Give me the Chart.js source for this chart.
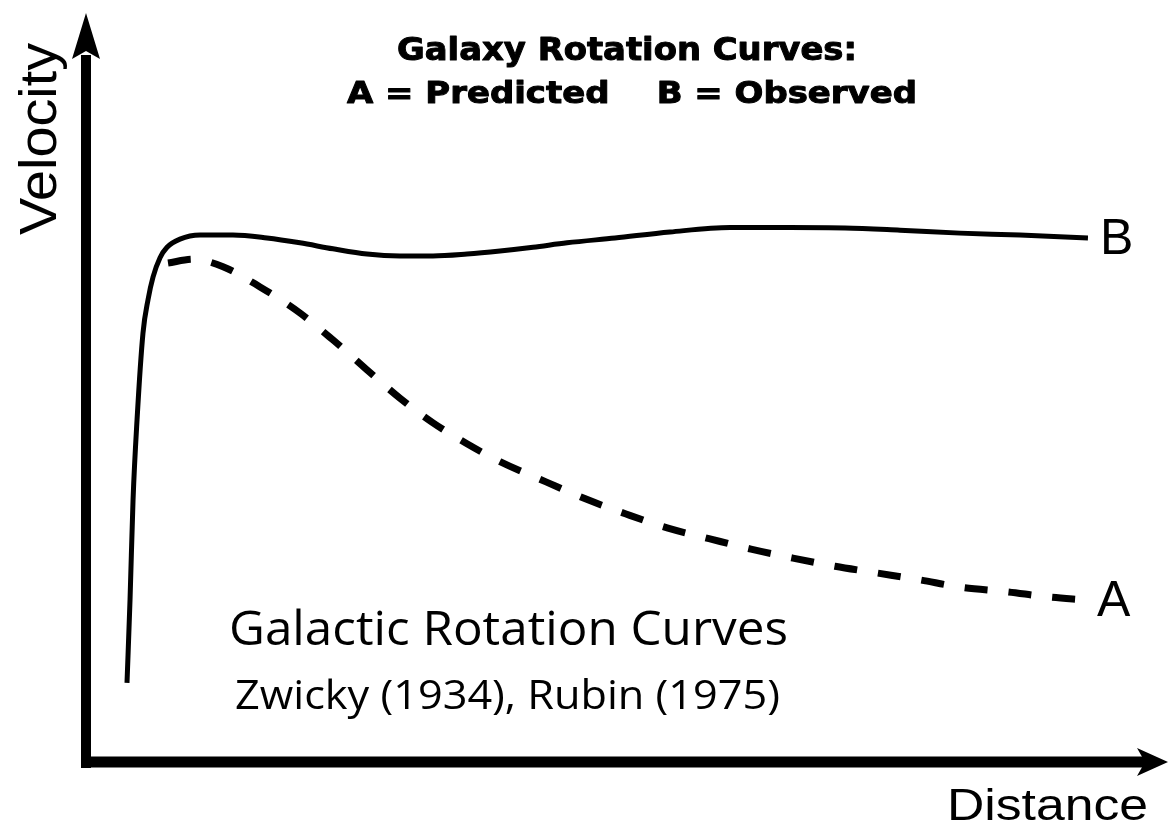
<!DOCTYPE html>
<html>
<head>
<meta charset="utf-8">
<script src="https://cdn.jsdelivr.net/npm/chart.js@4"></script>
<style>
html,body{margin:0;padding:0;background:#fff;}
#wrap{width:1171px;height:834px;}
</style>
</head>
<body>
<div id="wrap"><canvas id="c" width="1171" height="834"></canvas></div>
<script>
// ---- Data (distance 0..100, velocity 0..100, arbitrary units) ----
const observedDistance = [3.80, 4.08, 4.36, 4.73, 5.28, 5.75, 6.21, 6.86, 7.51, 8.71, 10.57, 13.62, 16.77, 19.83, 22.89, 26.04, 29.10, 32.16, 35.31, 38.37, 41.43, 44.58, 49.03, 54.12, 59.69, 65.25, 70.34, 75.44, 81.00, 86.56, 92.86];
const observedVelocity = [10.6, 21.7, 35.1, 45.8, 57.4, 61.9, 64.9, 67.5, 68.9, 70.0, 70.55, 70.55, 70.15, 69.5, 68.7, 68.0, 67.75, 67.75, 68.0, 68.4, 68.9, 69.5, 70.15, 70.95, 71.55, 71.55, 71.5, 71.2, 70.8, 70.55, 70.15];

const predictedDistance = [7.60, 9.92, 12.70, 16.13, 19.83, 22.89, 26.04, 29.10, 32.16, 35.31, 38.37, 42.63, 46.34, 50.05, 53.94, 57.74, 61.63, 65.52, 69.42, 73.31, 77.20, 81.09, 85.26, 89.16, 92.59];
const predictedVelocity = [66.8, 67.3, 66.3, 63.6, 60.1, 56.5, 52.5, 48.7, 45.4, 42.6, 40.2, 37.5, 35.2, 33.2, 31.3, 29.9, 28.5, 27.3, 26.2, 25.3, 24.4, 23.4, 22.8, 22.1, 21.7];

const seriesLabels = ['B', 'A'];
const titleLines = ['Galaxy Rotation Curves:', 'A = Predicted    B = Observed'];
const axisLabels = { x: 'Distance', y: 'Velocity' };
const captionLines = ['Galactic Rotation Curves', 'Zwicky (1934), Rubin (1975)'];

const toPoints = (xs, ys) => xs.map((x, i) => ({ x: x, y: ys[i] }));

function fitText(ctx, txt, x, y, font, width, strokeW) {
  ctx.save();
  ctx.font = font;
  const m = ctx.measureText(txt).width;
  const s = width / m;
  ctx.translate(x, y);
  ctx.scale(s, 1);
  ctx.textAlign = 'left';
  ctx.textBaseline = 'alphabetic';
  ctx.fillText(txt, 0, 0);
  if (strokeW) {
    ctx.lineWidth = strokeW;
    ctx.lineJoin = 'round';
    ctx.strokeText(txt, 0, 0);
  }
  ctx.restore();
}

const decorPlugin = {
  id: 'decor',
  afterDatasetsDraw(chart) {
    const ctx = chart.ctx;
    const xs = chart.scales.x, ys = chart.scales.y;
    const ca = chart.chartArea;
    const x0 = xs.getPixelForValue(0);
    const y0 = ys.getPixelForValue(0);
    ctx.save();
    ctx.fillStyle = '#000';
    ctx.strokeStyle = '#000';
    // Y axis
    ctx.lineWidth = 10;
    ctx.lineCap = 'butt';
    ctx.beginPath();
    ctx.moveTo(x0, y0 + 6);
    ctx.lineTo(x0, ca.top + 40);
    ctx.stroke();
    ctx.beginPath();
    ctx.moveTo(x0, ca.top - 2);
    ctx.lineTo(x0 + 14, ca.top + 44);
    ctx.lineTo(x0, ca.top + 36);
    ctx.lineTo(x0 - 14, ca.top + 44);
    ctx.closePath();
    ctx.fill();
    // X axis
    ctx.lineWidth = 11;
    ctx.beginPath();
    ctx.moveTo(x0 - 5, y0);
    ctx.lineTo(ca.right - 20, y0);
    ctx.stroke();
    ctx.beginPath();
    ctx.moveTo(ca.right + 3, y0);
    ctx.lineTo(ca.right - 28, y0 - 14);
    ctx.lineTo(ca.right - 20, y0);
    ctx.lineTo(ca.right - 28, y0 + 14);
    ctx.closePath();
    ctx.fill();

    ctx.fillStyle = '#000';
    // Title
    fitText(ctx, titleLines[0], 397, 60, "bold 32px 'DejaVu Sans'", 460, 1);
    fitText(ctx, titleLines[1], 347, 103, "bold 31px 'DejaVu Sans'", 570, 1);
    // Axis labels
    fitText(ctx, axisLabels.x, 947, 820, "45px 'Liberation Sans'", 201);
    ctx.save();
    ctx.translate(56, 235);
    ctx.rotate(-Math.PI / 2);
    fitText(ctx, axisLabels.y, 0, 0, "51px 'Liberation Sans'", 192);
    ctx.restore();
    // Caption
    fitText(ctx, captionLines[0], 229, 645, "48px 'Open Sans'", 559);
    fitText(ctx, captionLines[1], 235, 709, "40px 'Open Sans'", 545);
    // Series end labels
    chart.data.datasets.forEach((ds) => {
      const last = ds.data[ds.data.length - 1];
      const px = xs.getPixelForValue(last.x);
      const py = ys.getPixelForValue(last.y);
      ctx.font = "50px 'Liberation Sans'";
      ctx.textAlign = 'left';
      ctx.textBaseline = 'middle';
      ctx.fillText(ds.label, px + 12, py + 2);
    });
    ctx.restore();
  }
};

new Chart(document.getElementById('c'), {
  type: 'line',
  data: {
    datasets: [
      {
        label: seriesLabels[0],
        data: toPoints(observedDistance, observedVelocity),
        borderColor: '#000',
        borderWidth: 5,
        pointRadius: 0,
        cubicInterpolationMode: 'monotone',
        fill: false
      },
      {
        label: seriesLabels[1],
        data: toPoints(predictedDistance, predictedVelocity),
        borderColor: '#000',
        borderWidth: 7,
        borderDash: [23, 21],
        borderCapStyle: 'butt',
        pointRadius: 0,
        cubicInterpolationMode: 'monotone',
        fill: false
      }
    ]
  },
  options: {
    responsive: false,
    animation: false,
    events: [],
    layout: { padding: { left: 86, right: 6, top: 15, bottom: 72 } },
    scales: {
      x: { type: 'linear', min: 0, max: 100, display: false },
      y: { type: 'linear', min: 0, max: 100, display: false }
    },
    plugins: {
      legend: { display: false },
      tooltip: { enabled: false },
      title: { display: false }
    }
  },
  plugins: [decorPlugin]
});
</script>
</body>
</html>
